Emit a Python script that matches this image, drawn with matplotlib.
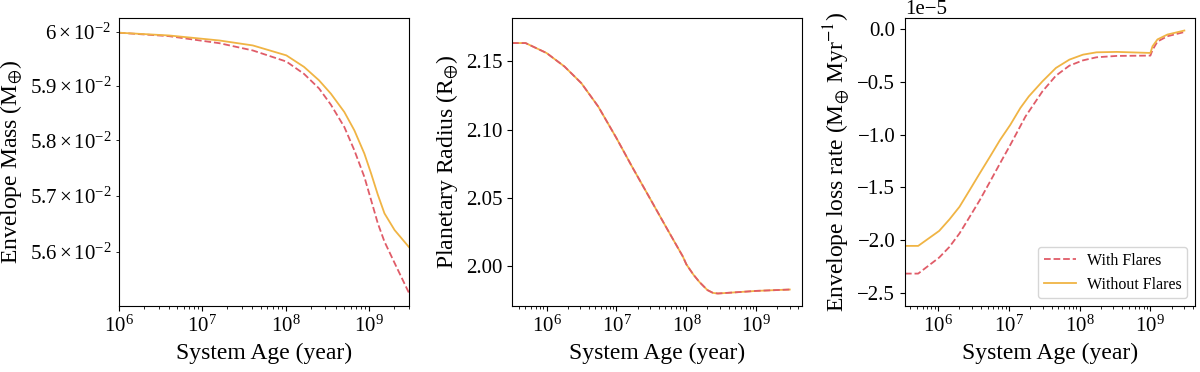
import numpy as np
import matplotlib
matplotlib.use("Agg")
import matplotlib.pyplot as plt

plt.rcParams['font.family'] = ['Liberation Serif', 'DejaVu Serif']
plt.rcParams['mathtext.fontset'] = 'stix'
plt.rcParams['font.size'] = 15

# Envelope mass (panel 1), age given as log10(year)
logage_mass = [6.0, 6.602, 7.205, 7.606, 8.008, 8.22, 8.4, 8.542, 8.703, 8.823,
               8.943, 9.024, 9.104, 9.184, 9.305, 9.477]
mass_flare = [0.05999, 0.059925, 0.059793, 0.059657, 0.059450, 0.05922, 0.05895, 0.05865,
              0.058241, 0.057818, 0.057337, 0.056921, 0.056509, 0.056185, 0.055811, 0.05529]
mass_noflare = [0.05999, 0.059938, 0.059844, 0.059751, 0.059565, 0.05935, 0.059100, 0.058853,
                0.058516, 0.058181, 0.057758, 0.057398, 0.05702, 0.056685, 0.05639, 0.05609]

# Planetary radius (panel 2), identical for both runs
logage_rad = [5.507, 5.70, 6.0, 6.256, 6.497, 6.739, 7.0, 7.222, 7.464, 7.706, 7.947,
              8.0, 8.1, 8.188, 8.3, 8.38, 8.45, 8.6, 9.0, 9.477]
radius = [2.1635, 2.1635, 2.1562, 2.1463, 2.1341, 2.1169, 2.0937, 2.0728, 2.0508, 2.0287, 2.0070,
          2.0010, 1.9935, 1.9880, 1.9822, 1.9801, 1.9797, 1.9802, 1.9816, 1.9826]

# Envelope loss rate (panel 3), units of 1e-5 M_earth / Myr
logage_rate_f = [5.53, 5.717, 6.014, 6.158, 6.301, 6.445, 6.588, 6.732, 6.875, 7.019, 7.12,
                 7.234, 7.35, 7.473, 7.664, 7.855, 8.047, 8.238, 8.525, 9.0, 9.03, 9.1, 9.24, 9.48]
rate_flare = [-2.315, -2.315, -2.163, -2.063, -1.935, -1.778, -1.620, -1.446, -1.271, -1.098,
              -0.972, -0.829, -0.714, -0.592, -0.443, -0.348, -0.298, -0.269, -0.256, -0.253,
              -0.20, -0.12, -0.07, -0.03]
logage_rate_nf = [5.53, 5.717, 6.014, 6.158, 6.301, 6.445, 6.588, 6.732, 6.875, 7.019, 7.162,
                  7.281, 7.473, 7.664, 7.855, 8.047, 8.238, 8.525, 9.0, 9.03, 9.1, 9.24, 9.48]
rate_noflare = [-2.053, -2.053, -1.911, -1.803, -1.683, -1.525, -1.366, -1.209, -1.050, -0.908,
                -0.748, -0.639, -0.497, -0.370, -0.291, -0.244, -0.222, -0.218, -0.228,
                -0.165, -0.10, -0.054, -0.016]

red = '#e05c68'
yellow = '#f0b444'

fig, axes = plt.subplots(1, 3, figsize=(12, 3.72), dpi=100)
fig.subplots_adjust(left=0.099, right=0.996, top=0.952, bottom=0.177, wspace=0.355)

ax = axes[0]
ax.plot(10 ** np.array(logage_mass), mass_flare, '--', color=red, lw=1.3, label='With Flares')
ax.plot(10 ** np.array(logage_mass), mass_noflare, '-', color=yellow, lw=1.3, label='Without Flares')
ax.set_xscale('log')
ax.set_yscale('log')
ax.set_xlim(1e6, 3e9)
ax.set_ylim(0.05506, 0.06027)
ax.set_xlabel('System Age (year)', fontsize=17)
ax.set_ylabel(r'Envelope Mass (M$_{\oplus}$)', fontsize=17)

ax = axes[1]
ax.plot(10 ** np.array(logage_rad), radius, '-', color=yellow, lw=1.3, label='Without Flares')
ax.plot(10 ** np.array(logage_rad), radius, '--', color=red, lw=1.3, label='With Flares')
ax.set_xscale('log')
ax.set_xlim(3.2e5, 4.5e9)
ax.set_ylim(1.9704, 2.182)
ax.set_yticks([2.00, 2.05, 2.10, 2.15])
ax.set_xlabel('System Age (year)', fontsize=17)
ax.set_ylabel(r'Planetary Radius (R$_{\oplus}$)', fontsize=17)

ax = axes[2]
ax.plot(10 ** np.array(logage_rate_f), np.array(rate_flare) * 1e-5, '--', color=red, lw=1.3,
        label='With Flares')
ax.plot(10 ** np.array(logage_rate_nf), np.array(rate_noflare) * 1e-5, '-', color=yellow, lw=1.3,
        label='Without Flares')
ax.set_xscale('log')
ax.set_xlim(3.4e5, 4.3e9)
ax.set_ylim(-2.623e-5, 0.104e-5)
ax.set_xlabel('System Age (year)', fontsize=17)
ax.set_ylabel(r'Envelope loss rate (M$_{\oplus}$ Myr$^{-1}$)', fontsize=17)
ax.legend(loc='lower right', fontsize=11.5, borderpad=0.35, handletextpad=0.7)

for ax in axes:
    ax.tick_params(labelsize=15)

fig.savefig('out.png', dpi=100)
